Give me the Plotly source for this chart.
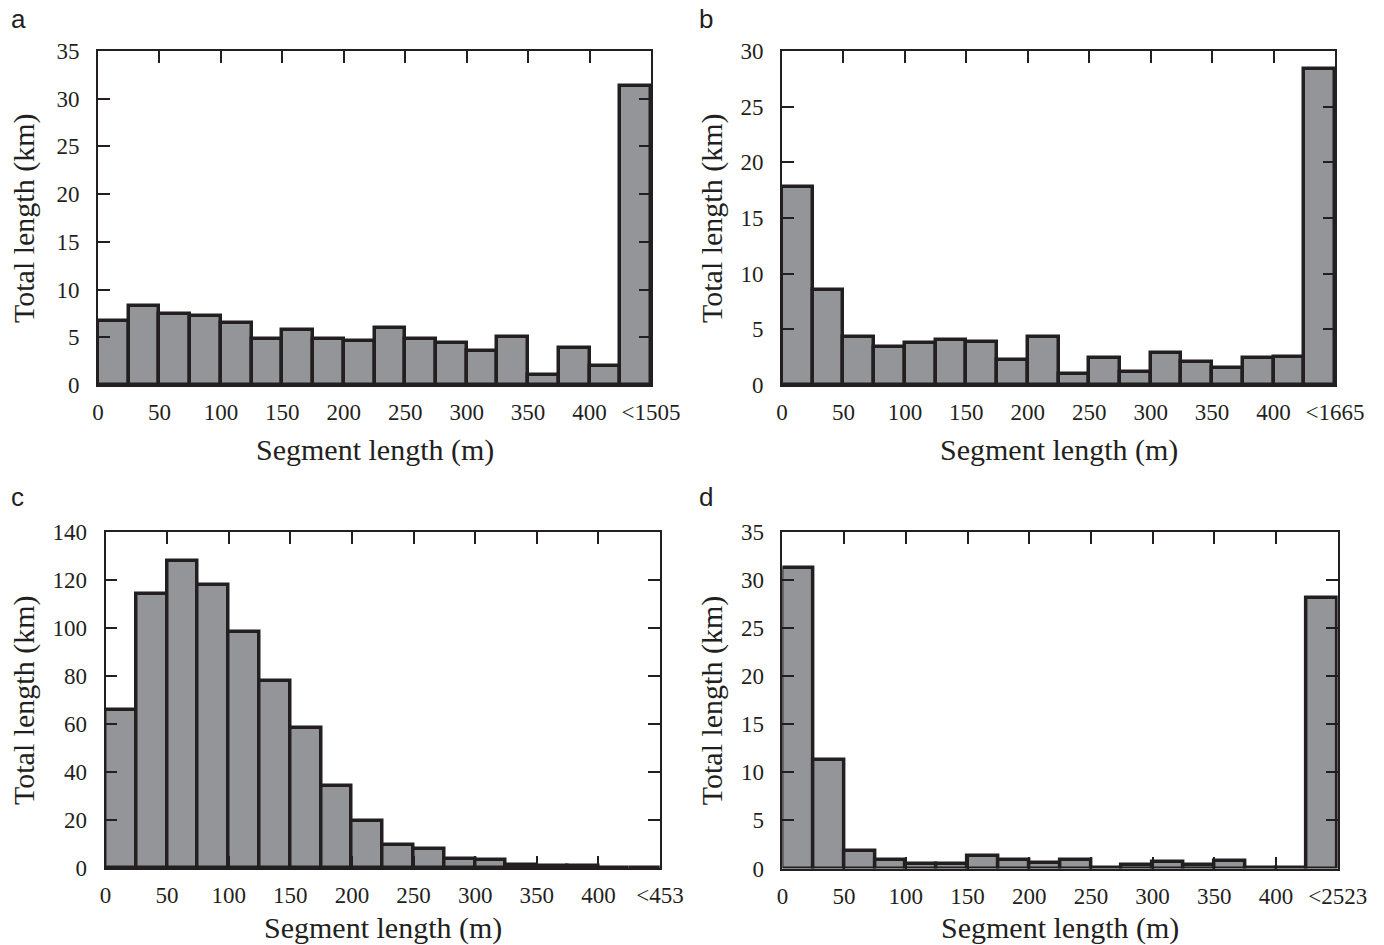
import plotly.graph_objects as go

# Segment-length bins (lower edge, m); every bin is 25 m wide, the last one is open-ended
bin_edges = [0, 25, 50, 75, 100, 125, 150, 175, 200, 225, 250, 275, 300, 325, 350, 375, 400, 425]
bin_width = 25

# Total length (km) per bin for each network
total_a = [6.7, 8.3, 7.4, 7.2, 6.5, 4.8, 5.8, 4.8, 4.6, 6.0, 4.8, 4.4, 3.6, 5.0, 1.1, 3.9, 2.0, 31.3]
total_b = [17.8, 8.5, 4.3, 3.4, 3.75, 4.0, 3.9, 2.25, 4.3, 1.0, 2.4, 1.2, 2.9, 2.1, 1.5, 2.4, 2.5, 28.4]
total_c = [66, 114, 128, 118, 98.3, 78, 58.2, 34, 19.5, 9.4, 7.8, 3.7, 3.5, 1.1, 1.0, 0.7, 0.2, 0.2]
total_d = [31.3, 11.3, 1.85, 0.85, 0.45, 0.5, 1.35, 0.9, 0.55, 0.85, 0.05, 0.35, 0.65, 0.35, 0.8, 0.05, 0.05, 28.1]

# Tick labels on the segment-length axis
tick_vals = [0, 50, 100, 150, 200, 250, 300, 350, 400, 450]
base_ticks = ["0", "50", "100", "150", "200", "250", "300", "350", "400"]
last_tick = {"a": "<1505", "b": "<1665", "c": "<453", "d": "<2523"}

y_max = {"a": 35, "b": 30, "c": 140, "d": 35}
y_step = {"a": 5, "b": 5, "c": 20, "d": 5}

series = {"a": total_a, "b": total_b, "c": total_c, "d": total_d}

W, H = 1384, 945
INK = "#231f20"
FILL = "#939598"
SERIF = "Liberation Serif, Times New Roman, serif"
SANS = "Liberation Sans, Arial, sans-serif"

# Plot-area boxes in pixels: (left, right, top, bottom)
boxes = {
    "a": (98, 651, 51, 385),
    "b": (782, 1335, 51, 385),
    "c": (105.5, 660, 532, 868),
    "d": (782.4, 1337.7, 532, 868.5),
}
# Panel letter positions and axis-title positions in pixels
letter_pos = {"a": (9, 19), "b": (697, 19), "c": (9, 497), "d": (697, 497)}
ytitle_x = {"a": 24, "b": 712, "c": 24, "d": 712}
xtitle_y = {"a": 450, "b": 450, "c": 928, "d": 928}

fig = go.Figure()
annotations = []
layout = {}

for i, key in enumerate(["a", "b", "c", "d"]):
    n = "" if i == 0 else str(i + 1)
    xa, ya = "x" + n, "y" + n
    left, right, top, bottom = boxes[key]

    fig.add_trace(go.Bar(
        x=bin_edges, y=series[key], width=bin_width, offset=0,
        marker=dict(color=FILL, line=dict(color=INK, width=3.5)),
        xaxis=xa, yaxis=ya, showlegend=False, cliponaxis=False,
        hoverinfo="x+y",
    ))

    axis_common = dict(
        showgrid=False, zeroline=False, automargin=False,
        showline=True, linecolor=INK, linewidth=1.6, mirror="ticks",
        ticks="inside", ticklen=12, tickwidth=1.5, tickcolor=INK,
        tickfont=dict(family=SERIF, size=23, color=INK),
    )
    layout["xaxis" + n] = dict(
        axis_common,
        domain=[left / W, right / W], anchor=ya, range=[0, 450],
        tickmode="array", tickvals=tick_vals,
        ticktext=base_ticks + [last_tick[key]],
        ticklabelstandoff=6,
    )
    layout["yaxis" + n] = dict(
        axis_common,
        domain=[1 - bottom / H, 1 - top / H], anchor=xa,
        range=[0, y_max[key]], dtick=y_step[key], tick0=0,
        ticklabelstandoff=12,
    )

    # Axis titles
    annotations.append(dict(
        text="Segment length (m)", xref="paper", yref="paper",
        x=(left + right) / 2 / W, y=1 - xtitle_y[key] / H,
        xanchor="center", yanchor="middle", showarrow=False,
        font=dict(family=SERIF, size=30, color=INK),
    ))
    annotations.append(dict(
        text="Total length (km)", xref="paper", yref="paper",
        x=ytitle_x[key] / W, y=1 - (top + bottom) / 2 / H,
        xanchor="center", yanchor="middle", showarrow=False, textangle=-90,
        font=dict(family=SERIF, size=30, color=INK),
    ))
    # Panel letter
    lx, ly = letter_pos[key]
    annotations.append(dict(
        text=key, xref="paper", yref="paper",
        x=lx / W, y=1 - ly / H, xanchor="left", yanchor="middle",
        showarrow=False,
        font=dict(family=SANS, size=26, color=INK),
    ))

fig.update_layout(
    template="none",
    width=W, height=H,
    margin=dict(l=0, r=0, t=0, b=0, autoexpand=False),
    paper_bgcolor="white", plot_bgcolor="white",
    bargap=0,
    annotations=annotations,
    **layout,
)

fig.write_html("out.html")
